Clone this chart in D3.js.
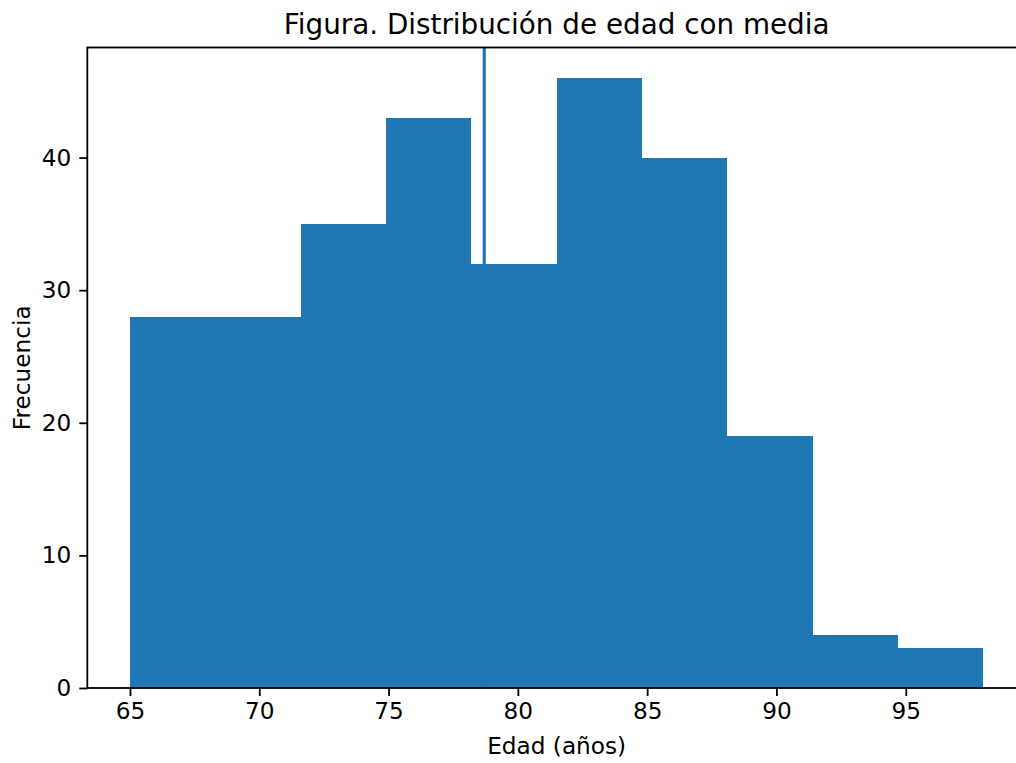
<!DOCTYPE html>
<html>
<head>
<meta charset="utf-8">
<script src="https://cdn.jsdelivr.net/npm/d3@7"></script>
<style>
  html, body { margin: 0; padding: 0; background: #fff; overflow: hidden; }
  svg { display: block; }
  text { font-family: "DejaVu Sans", sans-serif; fill: #000; }
</style>
</head>
<body>
<svg id="chart" width="1016" height="763"></svg>
<script>
// Data
const binEdges = [65, 68.3, 71.6, 74.9, 78.2, 81.5, 84.8, 88.1, 91.4, 94.7, 98];
const counts = [28, 28, 35, 43, 32, 46, 40, 19, 4, 3];
const meanAge = 78.7;
const xTicks = [65, 70, 75, 80, 85, 90, 95];
const yTicks = [0, 10, 20, 30, 40];
const title = "Figura. Distribución de edad con media";
const xLabel = "Edad (años)";
const yLabel = "Frecuencia";

(function () {
const svg = d3.select("#chart");
const mLeft = 87.3, mRight = 1026, mTop = 47.5, mBottom = 688;
const xMin = binEdges[0], xMax = binEdges[binEdges.length - 1];
const xPad = (xMax - xMin) * 0.05;
const x = d3.scaleLinear().domain([xMin - xPad, xMax + xPad]).range([mLeft, mRight]);
const y = d3.scaleLinear().domain([0, d3.max(counts) * 1.05]).range([mBottom, mTop]);
const color = "#1f77b4";
const fs = "23.2px";

const bins = counts.map((c, i) => ({ x0: binEdges[i], x1: binEdges[i + 1], c }));

svg.append("g").attr("shape-rendering", "crispEdges")
  .selectAll("rect").data(bins).join("rect")
  .attr("x", d => x(d.x0))
  .attr("width", d => x(d.x1) - x(d.x0))
  .attr("y", d => y(d.c))
  .attr("height", d => y(0) - y(d.c))
  .attr("fill", color);

// mean line
svg.append("line")
  .attr("x1", x(meanAge)).attr("x2", x(meanAge))
  .attr("y1", mTop).attr("y2", mBottom)
  .attr("stroke", color).attr("stroke-width", 3.2);

// axes
const xAxis = d3.axisBottom(x).tickValues(xTicks).tickSize(8).tickPadding(7).tickFormat(d3.format("d"));
const gx = svg.append("g").attr("transform", `translate(0,${mBottom})`).call(xAxis);
const yAxis = d3.axisLeft(y).tickValues(yTicks).tickSize(8).tickPadding(8).tickFormat(d3.format("d"));
const gy = svg.append("g").attr("transform", `translate(${mLeft},0)`).call(yAxis);
[gx, gy].forEach(g => {
  g.select(".domain").remove();
  g.selectAll(".tick line").attr("stroke", "#000").attr("stroke-width", 1.8);
  g.selectAll(".tick text").attr("font-size", fs).attr("font-family", "DejaVu Sans").attr("fill", "#000");
});

// spines
svg.append("rect")
  .attr("x", mLeft).attr("y", mTop)
  .attr("width", mRight - mLeft).attr("height", mBottom - mTop)
  .attr("fill", "none").attr("stroke", "#000").attr("stroke-width", 1.8);

// labels
svg.append("text").attr("x", (mLeft + mRight) / 2).attr("y", 34)
  .attr("text-anchor", "middle").attr("font-size", "27.8px").text(title);
svg.append("text").attr("x", (mLeft + mRight) / 2).attr("y", 754)
  .attr("text-anchor", "middle").attr("font-size", fs).text(xLabel);
svg.append("text")
  .attr("transform", `translate(30,${(mTop + mBottom) / 2}) rotate(-90)`)
  .attr("text-anchor", "middle").attr("font-size", fs).text(yLabel);
})();
</script>
</body>
</html>
